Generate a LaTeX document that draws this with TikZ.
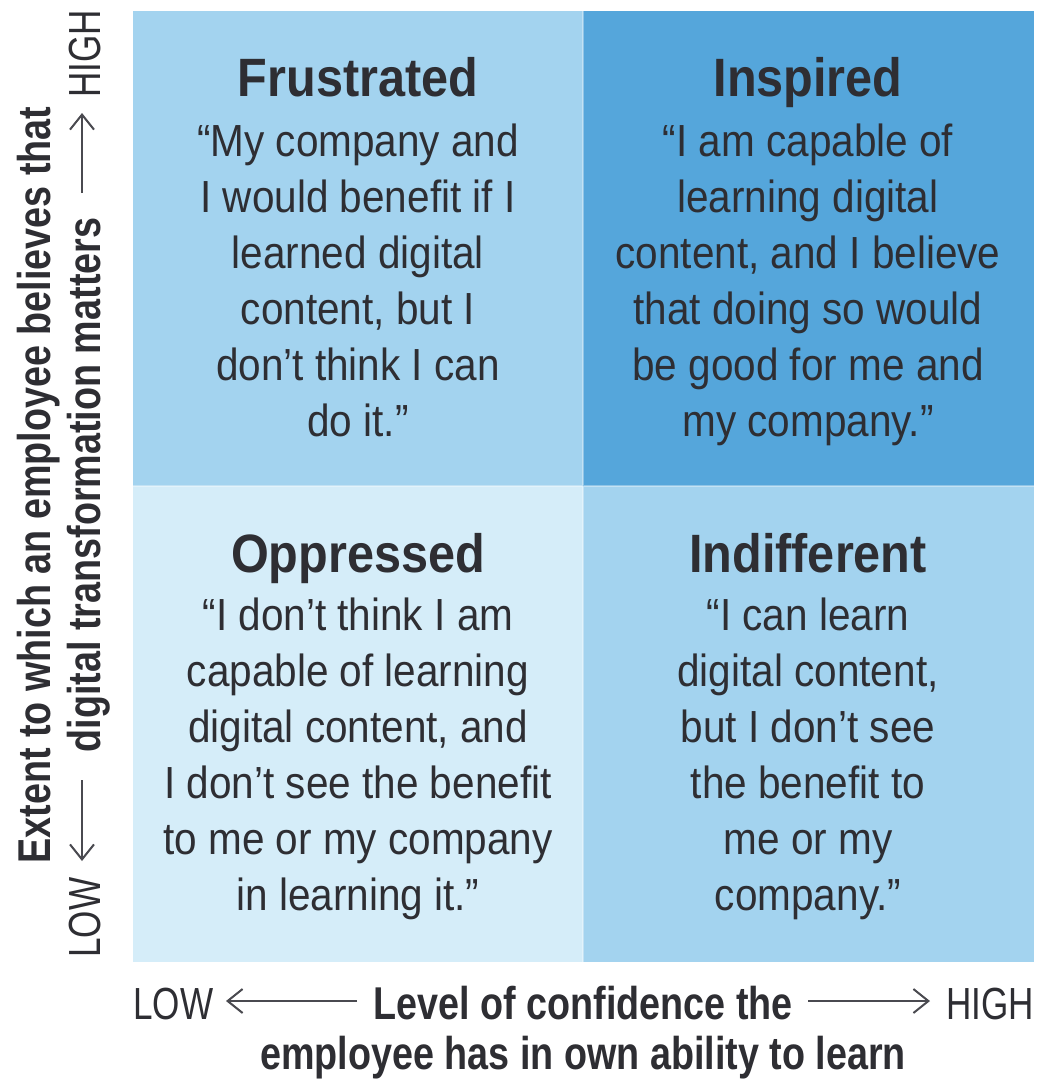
\documentclass[tikz,border=0pt]{standalone}
\usepackage{fontspec}
\setmainfont{Liberation Sans}[FakeStretch=0.9]
\newfontfamily\axisfont{Liberation Sans}[FakeStretch=0.82]
\newfontfamily\tickfont{Liberation Sans}[FakeStretch=0.78]
\usetikzlibrary{arrows.meta}
\definecolor{qlight}{HTML}{A3D3EF}
\definecolor{qdark}{HTML}{55A6DB}
\definecolor{qpale}{HTML}{D5EDF9}
\definecolor{ink}{HTML}{2E2E33}
\definecolor{arrowink}{HTML}{4A4A50}
\begin{document}
\begin{tikzpicture}[x=1pt,y=-1pt,
  title/.style={font=\fontsize{54}{56}\selectfont\bfseries, text=ink, anchor=base, inner sep=0pt},
  body/.style={font=\fontsize{45}{56}\selectfont, text=ink, align=center, anchor=north, inner sep=0pt},
  axis/.style={font=\axisfont\fontsize{46}{50}\selectfont\bfseries, text=ink, inner sep=0pt, anchor=base},
  tick/.style={font=\tickfont\fontsize{45}{50}\selectfont, text=ink, inner sep=0pt},
  axarrow/.style={draw=arrowink, line width=2pt, -{Straight Barb[length=15pt,width=24pt,line width=2pt]}}]
\useasboundingbox (0,0) rectangle (1040,1081);
\fill[white] (0,0) rectangle (1040,1081);
% quadrants
\fill[qlight] (133,11) rectangle (583,486);
\fill[qdark] (583,11) rectangle (1034,486);
\fill[qpale] (133,486) rectangle (583,962);
\fill[qlight] (583,486) rectangle (1034,962);
\draw[white, opacity=0.35, line width=1.5pt] (583,11) -- (583,962) (133,486) -- (1034,486);
% titles
\node[title] (t1) at (358,96) {Frustrated};
\node[title] (t2) at (808,96) {Inspired};
\node[title] (t3) at (358,572) {Oppressed};
\node[title] (t4) at (808,572) {Indifferent};
% bodies
\node[body] (b1) at (358,124) {“My company and\\I would benefit if I\\learned digital\\content, but I\\don’t think I can\\do it.”};
\node[body] (b2) at (808,124) {“I am capable of\\learning digital\\content, and I believe\\that doing so would\\be good for me and\\my company.”};
\node[body] (b3) at (358,598) {“I don’t think I am\\capable of learning\\digital content, and\\I don’t see the benefit\\to me or my company\\in learning it.”};
\node[body] (b4) at (808,598) {“I can learn\\digital content,\\but I don’t see\\the benefit to\\me or my\\company.”};
% vertical axis
\node[axis, rotate=90] (ya) at (50,485) {Extent to which an employee believes that};
\node[axis, rotate=90] (yb) at (100,485) {digital transformation matters};
\node[tick, rotate=90, anchor=base west] (ylow) at (100,958) {LOW};
\node[tick, rotate=90, anchor=base east] (yhigh) at (100,10) {HIGH};
\coordinate (yl1) at (82,780);
\coordinate (yl2) at (82,861);
\coordinate (yh1) at (82,193);
\coordinate (yh2) at (82,113);
\draw[axarrow] (yl1) -- (yl2);
\draw[axarrow] (yh1) -- (yh2);
% horizontal axis
\node[axis] (xa) at (583,1019) {Level of confidence the};
\node[axis] (xb) at (583,1069) {employee has in own ability to learn};
\node[tick, anchor=base west] (xlow) at (133,1019) {LOW};
\node[tick, anchor=base east] (xhigh) at (1034,1019) {HIGH};
\coordinate (xl1) at (357,1001);
\coordinate (xl2) at (226,1001);
\coordinate (xh1) at (808,1001);
\coordinate (xh2) at (930,1001);
\draw[axarrow] (xl1) -- (xl2);
\draw[axarrow] (xh1) -- (xh2);
\end{tikzpicture}
\end{document}
